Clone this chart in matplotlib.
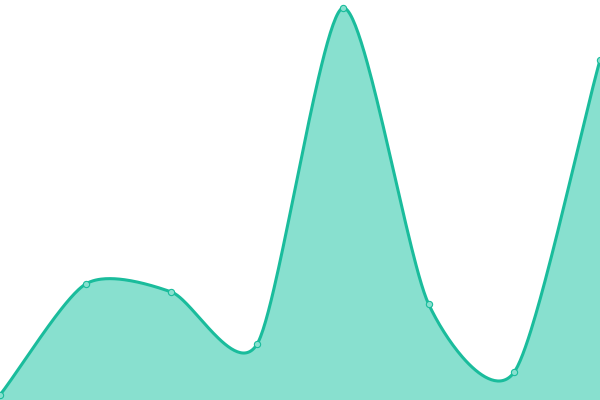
import numpy as np
import matplotlib
matplotlib.use("Agg")
import matplotlib.pyplot as plt

categories = ["A", "B", "C", "D", "E", "F", "G", "H"]
values = [5, 116, 108, 56, 392, 96, 28, 340]

line_color = "#1abc9c"
fill_color = "#88e0cf"

def smooth_curve(x, y, k=0.75, n=60):
    x = np.asarray(x, float); y = np.asarray(y, float)
    xs, ys = [], []
    m = len(x)
    tx = np.zeros(m); ty = np.zeros(m)
    for i in range(m):
        a = max(i - 1, 0); b = min(i + 1, m - 1)
        tx[i] = k * (x[b] - x[a]) / (b - a)
        ty[i] = k * (y[b] - y[a]) / (b - a)
    t = np.linspace(0, 1, n)
    h00 = 2*t**3 - 3*t**2 + 1
    h10 = t**3 - 2*t**2 + t
    h01 = -2*t**3 + 3*t**2
    h11 = t**3 - t**2
    for i in range(m - 1):
        xs.append(h00*x[i] + h10*tx[i] + h01*x[i+1] + h11*tx[i+1])
        ys.append(h00*y[i] + h10*ty[i] + h01*y[i+1] + h11*ty[i+1])
    return np.concatenate(xs), np.concatenate(ys)

xpos = np.arange(len(categories))
sx, sy = smooth_curve(xpos, values)

fig = plt.figure(figsize=(6, 4), dpi=100)
ax = fig.add_axes([0, 0, 1, 1])
ax.fill_between(sx, sy, 0, color=fill_color, linewidth=0)
ax.plot(sx, sy, color=line_color, linewidth=2.2, solid_capstyle="round")
ax.plot(xpos, values, linestyle="none", marker="o", markersize=4.5,
        markerfacecolor=fill_color, markeredgecolor=line_color, markeredgewidth=0.8)
ax.set_xlim(0, len(categories) - 1)
ax.set_ylim(0, 400)
ax.axis("off")
fig.savefig("out.png", dpi=100)
